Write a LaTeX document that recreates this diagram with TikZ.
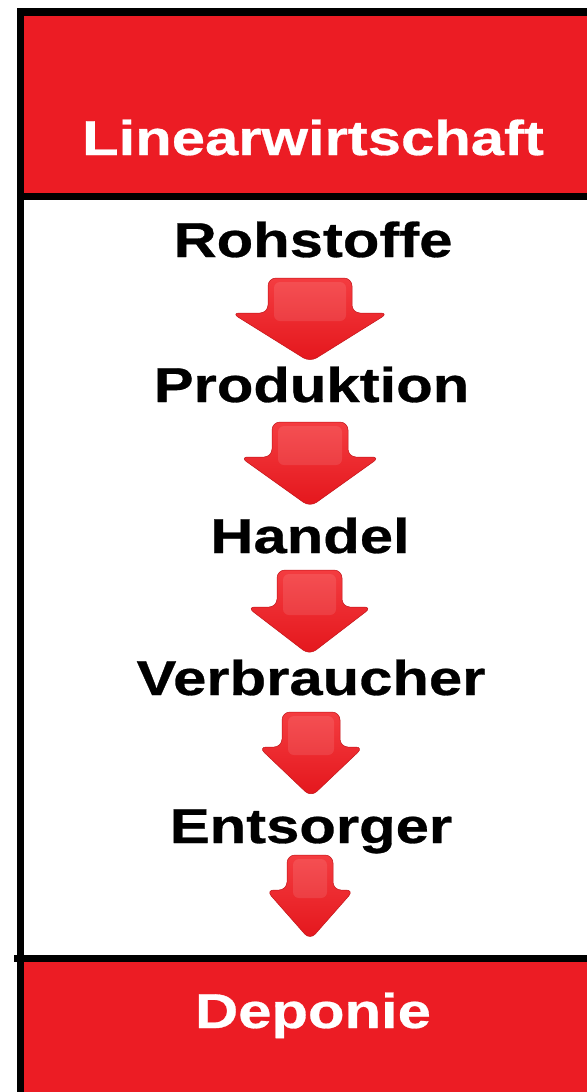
\documentclass[tikz,border=0pt]{standalone}
\usepackage{fontspec}
\newfontfamily\labfont{Liberation Sans}[FakeStretch=1.22,FakeBold=0.6]
\definecolor{bandred}{RGB}{236,28,36}
\definecolor{arrred}{RGB}{228,22,28}
\definecolor{arrlight}{RGB}{244,60,64}
\tikzset{
  lab/.style={font=\labfont\bfseries\fontsize{49}{49}\selectfont, anchor=base, inner sep=0pt},
  bandlab/.style={lab, text=white},
  blockarrow/.style={rounded corners=8pt, top color=arrlight, bottom color=arrred, draw=arrred!85!black, line width=0.5pt},
  highlight/.style={rounded corners=6pt, fill=white, fill opacity=0.1, draw=none}
}
\newcommand{\darrow}[6]{% cx, top, wing, tip, shaft half, head half
  \path[blockarrow] (#1-#5,#2) -- (#1+#5,#2) -- (#1+#5,#3) -- (#1+#6,#3) -- (#1,#4) -- (#1-#6,#3) -- (#1-#5,#3) -- cycle;
  \path[highlight] (#1-#5+6,#2+4) rectangle (#1+#5-6,#3+8);
}
\begin{document}
\begin{tikzpicture}[x=1pt,y=-1pt]
\useasboundingbox (0,0) rectangle (587,1092);
\fill[white] (0,0) rectangle (587,1092);
% frame
\fill[black] (17,8) rectangle (587,16);
\fill[black] (17,8) rectangle (24,1092);
\fill[bandred] (24,16) rectangle (587,193);
\fill[black] (24,193) rectangle (587,200);
\fill[black] (14,955) rectangle (587,962);
\fill[bandred] (24,962) rectangle (587,1092);
% texts
\node[bandlab] (title) at (313,155) {Linearwirtschaft};
\node[lab] (roh) at (313,257) {Rohstoffe};
\node[lab] (prod) at (311.5,402) {Produktion};
\node[lab] (handel) at (310,553) {Handel};
\node[lab] (verb) at (311,695) {Verbraucher};
\node[lab] (ents) at (311,843) {Entsorger};
\node[bandlab] (dep) at (313,1028) {Deponie};
% arrows
\darrow{310}{278}{313}{362}{42}{78.5}
\darrow{310}{422}{457}{507}{38}{70}
\darrow{309.5}{570}{607}{655}{32.5}{62.5}
\darrow{311}{712}{747}{797}{29}{52.5}
\darrow{310}{855}{890}{940}{23}{44}
\end{tikzpicture}
\end{document}
